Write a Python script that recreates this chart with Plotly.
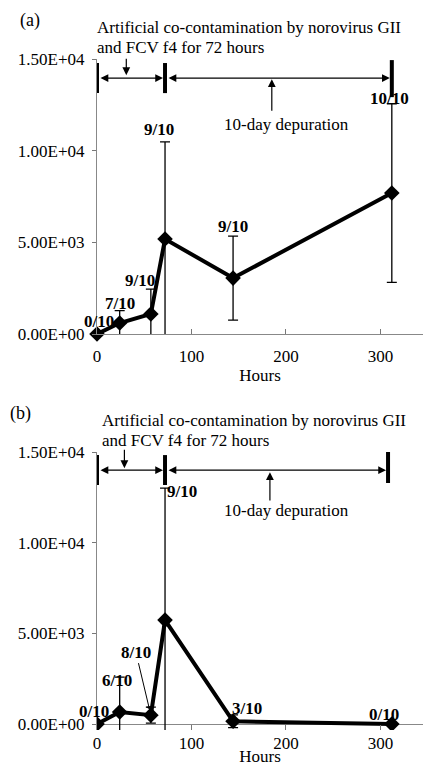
import plotly.graph_objects as go

# ---------------- data ----------------
hours = [0, 24, 57, 72, 144, 312]

a_mean = [0, 600, 1090, 5180, 3050, 7690]
a_err = [0, 680, 1360, 5300, 2290, 4870]
a_labels = ["0/10", "7/10", "9/10", "9/10", "9/10", "10/10"]

b_mean = [0, 660, 490, 5730, 150, 0]
b_err = [0, 1930, 440, 7280, 350, 0]
b_labels = ["0/10", "6/10", "8/10", "9/10", "3/10", "0/10"]

y_tick_vals = [0, 5000, 10000, 15000]
y_tick_text = ["0.00E+00", "5.00E+03", "1.00E+04", "1.50E+04"]
x_tick_vals = [0, 100, 200, 300]

header_line1 = "Artificial co-contamination by norovirus GII"
header_line2 = "and FCV f4 for 72 hours"
depuration_text = "10-day depuration"
phase_a = [0, 72, 312]
phase_b = [0, 72, 308]

# ---------------- layout helpers ----------------
W, H = 423, 766
ML = 97
PW = W - ML
SERIF = "Liberation Serif, Times New Roman, serif"
FS = 17


def px(x):
    return (x - ML) / PW


def py(y):
    return 1 - y / H


a_label_off = [(2, -13), (0, -20), (-11, -34), (-6, -110), (0, -52), (-2, -95)]
b_label_off = [(-3, -13), (-3, -32), (-15, -63), (17, -129), (14, -13), (-8, -10)]

fig = go.Figure()

for xa, ya, mean, err, clip in [("x", "y", a_mean, a_err, False), ("x2", "y2", b_mean, b_err, True)]:
    fig.add_trace(go.Scatter(
        x=hours, y=mean, xaxis=xa, yaxis=ya, mode="lines+markers",
        line=dict(color="black", width=4),
        marker=dict(symbol="diamond", size=12, color="black"),
        error_y=dict(type="data", array=err, visible=True, color="black",
                     thickness=1.3, width=5),
        cliponaxis=clip, showlegend=False, hoverinfo="skip"))

ann = []
shapes = []


def panel(xr, yr, letter, letter_x, letter_y, l1x, l1y, l2y, dep_x, dep_y,
          phase, y_bar_top, y_bar_bot, y_end_top, y_end_bot, y_arrow,
          down_x, down_tail, down_head, up_x, up_tail, up_head,
          mean, labels, offs):
    ann.append(dict(xref="paper", yref="paper", x=px(letter_x), y=py(letter_y),
                    xanchor="left", yanchor="middle", text=letter, showarrow=False,
                    font=dict(family=SERIF, size=FS + 1, color="black")))
    ann.append(dict(xref="paper", yref="paper", x=px(l1x), y=py(l1y),
                    xanchor="left", yanchor="middle", text=header_line1, showarrow=False,
                    font=dict(family=SERIF, size=FS, color="black")))
    ann.append(dict(xref="paper", yref="paper", x=px(l1x), y=py(l2y),
                    xanchor="left", yanchor="middle", text=header_line2, showarrow=False,
                    font=dict(family=SERIF, size=FS, color="black")))
    ann.append(dict(xref="paper", yref="paper", x=px(dep_x), y=py(dep_y),
                    xanchor="left", yanchor="middle", text=depuration_text, showarrow=False,
                    font=dict(family=SERIF, size=FS, color="black")))
    # phase bars
    for i, h in enumerate(phase):
        top, bot = (y_end_top, y_end_bot) if i == len(phase) - 1 else (y_bar_top, y_bar_bot)
        shapes.append(dict(type="line", xref=xr, yref=yr, x0=h, x1=h, y0=bot, y1=top,
                           line=dict(color="black", width=4)))
    # horizontal double arrows
    for h0, h1 in zip(phase[:-1], phase[1:]):
        ann.append(dict(xref=xr, yref=yr, axref=xr, ayref=yr, x=h1, y=y_arrow,
                        ax=h0, ay=y_arrow, text="", showarrow=True, arrowhead=2,
                        arrowside="end+start", arrowsize=1.3, arrowwidth=1.2,
                        arrowcolor="black", standoff=2, startstandoff=2))
    # down arrow
    ann.append(dict(xref=xr, yref=yr, axref=xr, ayref=yr, x=down_x, y=down_head,
                    ax=down_x, ay=down_tail, text="", showarrow=True, arrowhead=2,
                    arrowsize=1.3, arrowwidth=1.2, arrowcolor="black"))
    # up arrow
    ann.append(dict(xref=xr, yref=yr, axref=xr, ayref=yr, x=up_x, y=up_head,
                    ax=up_x, ay=up_tail, text="", showarrow=True, arrowhead=2,
                    arrowsize=1.3, arrowwidth=1.2, arrowcolor="black"))
    # data labels
    for h, m, lab, (dx, dy) in zip(hours, mean, labels, offs):
        if lab == "8/10":
            ann.append(dict(xref=xr, yref=yr, x=h, y=m, ax=dx, ay=dy,
                            text="<b>" + lab + "</b>", showarrow=True, arrowhead=1,
                            arrowsize=1, arrowwidth=1, arrowcolor="black", standoff=6,
                            font=dict(family=SERIF, size=FS, color="black")))
        else:
            ann.append(dict(xref=xr, yref=yr, x=h, y=m, xshift=dx, yshift=-dy,
                            text="<b>" + lab + "</b>", showarrow=False,
                            font=dict(family=SERIF, size=FS, color="black")))


panel("x", "y", "(a)", 18, 20, 95, 28, 48, 222, 124,
      phase_a, 14780, 13140, 14940, 12920, 13960,
      31, 15100, 14120, 185, 12100, 13900,
      a_mean, a_labels, a_label_off)
panel("x2", "y2", "(b)", 8, 413, 100, 420, 440, 222, 511,
      phase_b, 14830, 13180, 15000, 13290, 14000,
      29, 15210, 14110, 183, 12240, 13890,
      b_mean, b_labels, b_label_off)

axis_font = dict(family=SERIF, size=FS, color="black")
common_x = dict(range=[0, 345], tickvals=x_tick_vals, ticks="inside", ticklen=5,
                tickcolor="#777", tickfont=axis_font, showgrid=False, zeroline=False,
                automargin=False)
common_y = dict(tickvals=y_tick_vals, ticktext=y_tick_text, ticks="outside", ticklen=4,
                tickcolor="#777", tickfont=axis_font, showgrid=False, showline=True,
                linecolor="#888", linewidth=1, ticklabelstandoff=4, automargin=False)

fig.update_layout(
    template="none",
    width=W, height=H, margin=dict(l=ML, r=0, t=0, b=0, autoexpand=False),
    paper_bgcolor="white", plot_bgcolor="white",
    xaxis=dict(domain=[0, 1], anchor="y", showline=True, linecolor="#888", linewidth=1,
               ticklabelstandoff=7, title=dict(text="Hours", font=axis_font, standoff=2),
               **common_x),
    yaxis=dict(domain=[py(334), py(59)], anchor="x", range=[0, 15000], zeroline=False,
               **common_y),
    xaxis2=dict(domain=[0, 1], anchor="y2", showline=False, ticklabelstandoff=1,
                title=dict(text="Hours", font=axis_font, standoff=5), **common_x),
    yaxis2=dict(domain=[py(730), py(452)], anchor="x2", range=[-330, 15000],
                zeroline=True, zerolinecolor="#888", zerolinewidth=1, **common_y),
    annotations=ann, shapes=shapes,
)

fig.write_html("out.html", config={"displayModeBar": False},
               post_script="document.body.style.margin='0';document.body.style.overflow='hidden';")
